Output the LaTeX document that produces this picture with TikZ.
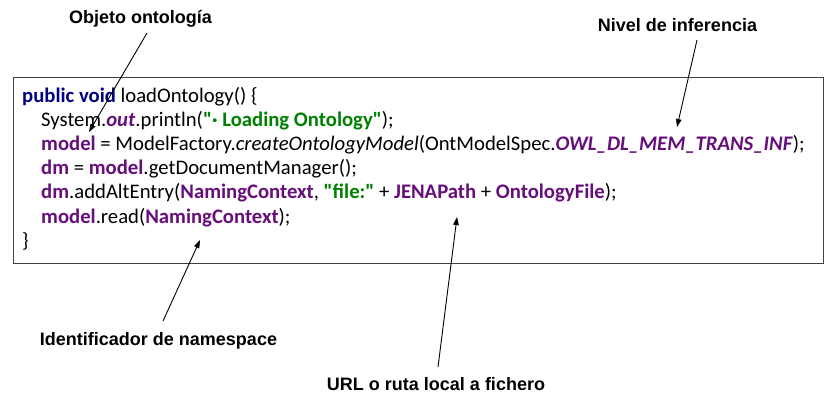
\documentclass[tikz,border=0pt]{standalone}
\usepackage{fontspec}
\setmainfont{Carlito}[Ligatures=TeXOff]
\newfontfamily\labfont{Liberation Sans}
\usetikzlibrary{arrows.meta}
\definecolor{kw}{HTML}{000080}
\definecolor{fld}{HTML}{660E7A}
\definecolor{str}{HTML}{008000}
\definecolor{boxc}{HTML}{404040}
\newcommand{\kwd}[1]{\textcolor{kw}{\textbf{#1}}}
\newcommand{\fl}[1]{\textcolor{fld}{\textbf{#1}}}
\newcommand{\sfl}[1]{\textcolor{fld}{\textbf{\textit{#1}}}}
\newcommand{\st}[1]{\textcolor{str}{\textbf{#1}}}
\newcommand{\dq}{\char34\relax}
\newcommand{\us}{\char95\relax}
\begin{document}
\begin{tikzpicture}[x=1pt,y=-1pt,
  codeline/.style={anchor=base west,inner sep=0pt,font=\fontsize{20.7}{24}\selectfont},
  lbl/.style={anchor=base,inner sep=0pt,font=\labfont\bfseries\fontsize{18}{22}\selectfont},
  pointer/.style={draw=black,line width=0.9pt,-{Triangle[length=8pt,width=5.5pt]}}]
\useasboundingbox (0,0) rectangle (828,400);
\fill[white] (0,0) rectangle (828,400);
\draw[boxc,line width=1pt] (13,77) rectangle (823,263);
\node[codeline] (l1) at (22,102) {\kwd{public void} loadOntology() \{};
\node[codeline] (l2) at (41,126.2) {System.\sfl{out}.println(\st{\dq· Loading Ontology\dq});};
\node[codeline] (l3) at (41,150.4) {\fl{model} = ModelFactory.\textit{createOntologyModel}(OntModelSpec.\sfl{OWL\us DL\us MEM\us TRANS\us INF});};
\node[codeline] (l4) at (41,174.6) {\fl{dm} = \fl{model}.getDocumentManager();};
\node[codeline] (l5) at (41,198.8) {\fl{dm}.addAltEntry(\fl{NamingContext}, \st{\dq file:\dq} + \fl{JENAPath} + \fl{OntologyFile});};
\node[codeline] (l6) at (41,223) {\fl{model}.read(\fl{NamingContext});};
\node[codeline] (l7) at (22,247.2) {\}};
\node[lbl] (objeto) at (140.5,23.5) {Objeto ontología};
\node[lbl] (nivel) at (677.5,31.5) {Nivel de inferencia};
\node[lbl] (ident) at (158.5,345) {Identificador de namespace};
\node[lbl] (url) at (436,390.7) {URL o ruta local a fichero};
\coordinate (objS) at (147,33);
\coordinate (objT) at (89,132);
\coordinate (nivS) at (697,40);
\coordinate (nivT) at (677,127);
\coordinate (idS) at (163,321);
\coordinate (idT) at (200,240);
\coordinate (urlS) at (438,367);
\coordinate (urlT) at (457,217);
\draw[pointer] (objS) -- (objT);
\draw[pointer] (nivS) -- (nivT);
\draw[pointer] (idS) -- (idT);
\draw[pointer] (urlS) -- (urlT);
\end{tikzpicture}
\end{document}
